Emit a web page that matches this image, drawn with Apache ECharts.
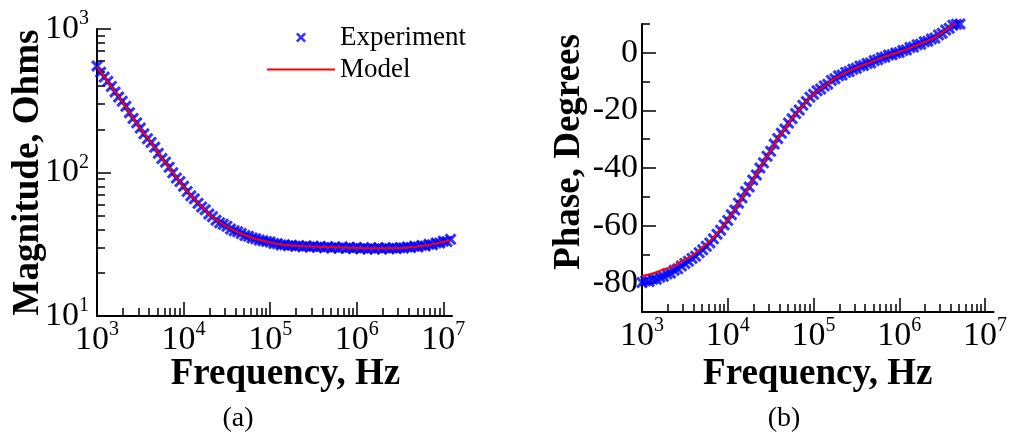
<!DOCTYPE html>
<html>
<head>
<meta charset="utf-8">
<script src="https://cdn.jsdelivr.net/npm/echarts@6/dist/echarts.min.js"></script>
<style>
html,body{margin:0;padding:0;background:#fff;}
#chart{width:1010px;height:433px;}
</style>
</head>
<body>
<div id="chart"></div>
<script>
// ---- data ----
// measured sweep (24 points per decade)
const expFreqs = [1000,1101,1212,1334,1468,1616,1778,1957,2154,2371,2610,2873,3162,3481,3831,4217,4642,5109,5623,6190,6813,7499,8254,9085,
  10000,11007,12115,13335,14678,16156,17783,19573,21544,23714,26102,28730,31623,34807,38312,42170,46416,51090,56234,61897,68129,74989,82540,90852,
  100000,110069,121153,133352,146780,161560,177828,195734,215443,237137,261016,287298,316228,348070,383119,421697,464159,510897,562341,618966,681292,749894,825404,908518,
  1000000,1100694,1211528,1333521,1467799,1615598,1778279,1957342,2154435,2371374,2610157,2872985,3162278,3480701,3831187,4216965,4641589,5108970,5623413,6189658,6812921,7498942,8254042,9085176,
  10000000,11006942,12115277];

const magExperiment = [552,500,462,432,398,364,336,314,289,261,238,222,204,186,172,162,150,136,125,118,109,99.5,91.5,86.5,
  80.2,73.8,68.8,65.6,61.0,57.5,55.0,51.4,49.2,46.5,44.6,43.6,42.2,40.4,39.2,38.6,37.6,36.4,35.9,35.0,34.6,33.8,33.4,33.1,
  32.8,32.0,31.9,31.3,31.4,30.9,31.1,30.6,30.9,30.4,30.8,30.2,30.6,30.1,30.5,29.9,30.4,29.8,30.3,29.7,30.2,29.6,30.1,29.5,
  30.0,29.4,29.9,29.3,29.8,29.3,29.9,29.3,29.9,29.4,29.9,29.5,29.9,29.8,30.2,30.0,30.6,30.3,31.0,30.8,31.6,31.4,32.3,32.2,
  33.2,33.0,34.2];

const phaseExperiment = [-79.8,-79.2,-79.4,-78.6,-78.6,-77.9,-77.6,-76.8,-76.5,-75.5,-75.0,-74.0,-73.2,-72.4,-71.4,-70.6,-69.4,-68.4,-67.2,-66.0,-64.6,-63.0,-61.6,-59.8,
  -58.2,-56.2,-54.6,-52.2,-50.4,-48.2,-46.6,-44.2,-42.4,-40.0,-38.2,-35.9,-34.2,-31.7,-29.8,-27.9,-26.5,-24.4,-22.9,-21.1,-19.9,-18.2,-16.9,-15.4,
  -14.4,-13.2,-12.6,-11.5,-10.9,-9.6,-9.0,-8.0,-7.7,-6.8,-6.5,-5.7,-5.4,-4.6,-4.4,-3.7,-3.5,-2.7,-2.4,-1.7,-1.5,-0.8,-0.7,-0.1,
  0.1,0.8,1.0,1.8,2.0,2.8,3.0,3.8,4.0,4.8,5.1,6.2,6.8,7.9,8.5,9.6,9.9,10.0];

// model curve (12 points per decade)
const modelFreqs = [1000,1212,1468,1778,2154,2610,3162,3831,4642,5623,6813,8254,
  10000,12115,14678,17783,21544,26102,31623,38312,46416,56234,68129,82540,
  100000,121153,146780,177828,215443,261016,316228,383119,464159,562341,681292,825404,
  1000000,1211528,1467799,1778279,2154435,2610157,3162278,3831187,4641589,5623413,6812921,8254042,
  10000000,12115277];
const magModel = [545,466,395,339,286,240,202,174,149,126,108,92.5,
  79.5,69.3,61.4,54.7,48.8,45.0,41.9,39.5,37.4,35.8,34.4,33.5,
  32.6,31.8,31.2,31.0,30.8,30.6,30.5,30.3,30.2,30.1,30.0,29.9,
  29.8,29.7,29.6,29.6,29.6,29.6,29.6,30.0,30.3,30.7,31.3,32.0,
  32.8,33.8];
const phaseModel = [-77.5,-77.0,-76.2,-75.2,-74.6,-73.2,-71.7,-70.5,-68.5,-66.4,-64.2,-61.2,
  -58.0,-54.5,-50.2,-46.5,-42.2,-38.0,-34.1,-29.5,-26.4,-22.7,-19.8,-16.8,
  -14.2,-12.5,-10.7,-8.8,-7.5,-6.3,-5.2,-4.2,-3.3,-2.2,-1.3,-0.5,
  0.3,1.2,2.2,3.2,4.2,5.3,7.0,8.7,10.6];

const freqDecades = [3,4,5,6,7];          // tick labels 10^3 .. 10^7
const magDecades = [1,2,3];               // tick labels 10^1 .. 10^3
const phaseLabels = [-80,-60,-40,-20,0];
const phaseMinor = [-70,-50,-30,-10,10];

// ---- helpers ----
const SERIF = 'Liberation Serif';
function minorLog(from, to) {
  const out = [];
  for (let n = from; n < to; n++) for (let k = 2; k <= 9; k++) out.push(Math.log10(k * Math.pow(10, n)));
  return out;
}
const powRich = {
  b: {fontSize: 34, lineHeight: 40, fontFamily: SERIF, color: '#000'},
  s: {fontSize: 20, lineHeight: 20, fontFamily: SERIF, color: '#000', verticalAlign: 'top'}
};
const powFmt = v => '{b|10}{s|' + Math.round(v) + '}';
const crossSym = 'path://M0,1.8L1.8,0L5,3.2L8.2,0L10,1.8L6.8,5L10,8.2L8.2,10L5,6.8L1.8,10L0,8.2L3.2,5Z';
const lineIcon = 'path://M0,4L68,4L68,6L0,6Z';
const BLUE = '#0000ff', RED = '#ff0000';
const lineStyleAxis = {color: '#000', width: 2};
const titleStyle = {fontSize: 37, fontWeight: 'bold', fontFamily: SERIF, color: '#000'};

function overlayX(grid, min, max, ticks, len, labels) {
  return {
    type: 'value', gridIndex: grid, position: 'bottom', min: min, max: max,
    axisLine: {show: false, onZero: false}, splitLine: {show: false},
    axisTick: {show: true, inside: true, length: len, customValues: ticks, lineStyle: {color: '#000', width: 1.5}},
    axisLabel: labels ? {show: true, customValues: labels, formatter: powFmt, rich: powRich, margin: 4} : {show: false}
  };
}
function overlayY(grid, min, max, ticks, len, labels, fmt, rich) {
  return {
    type: 'value', gridIndex: grid, position: 'left', min: min, max: max,
    axisLine: {show: false, onZero: false}, splitLine: {show: false},
    axisTick: {show: true, inside: true, length: len, customValues: ticks, lineStyle: {color: '#000', width: 1.5}},
    axisLabel: labels ? {show: true, customValues: labels, formatter: fmt, rich: rich, margin: 8} : {show: false}
  };
}

const chart = echarts.init(document.getElementById('chart'));
const fMin = 1000, fMax = Math.pow(10, 7.1);

const option = {
  backgroundColor: '#fff',
  animation: false,
  grid: [
    {left: 97, top: 29, width: 355, height: 287},
    {left: 642, top: 24, width: 355, height: 288}
  ],
  legend: {
    data: [{name: 'Experiment', icon: crossSym}, {name: 'Model', icon: lineIcon}],
    orient: 'vertical', left: 262, top: 19,
    itemWidth: 68, itemHeight: 10, itemGap: 5,
    textStyle: {fontSize: 27, fontFamily: SERIF, color: '#000'},
    selectedMode: false
  },
  xAxis: [
    {type: 'log', gridIndex: 0, min: fMin, max: fMax, logBase: 10, position: 'bottom',
     axisLine: {lineStyle: lineStyleAxis, onZero: false}, axisTick: {show: false}, axisLabel: {show: false}, splitLine: {show: false},
     name: 'Frequency, Hz', nameLocation: 'middle', nameGap: 40,
     nameTextStyle: Object.assign({padding: [0, 0, 0, 22]}, titleStyle)},
    overlayX(0, 3, 7.1, freqDecades, 14, freqDecades),
    overlayX(0, 3, 7.1, minorLog(3, 7), 8, null),
    {type: 'log', gridIndex: 1, min: fMin, max: fMax, logBase: 10, position: 'bottom',
     axisLine: {lineStyle: lineStyleAxis, onZero: false}, axisTick: {show: false}, axisLabel: {show: false}, splitLine: {show: false},
     name: 'Frequency, Hz', nameLocation: 'middle', nameGap: 44,
     nameTextStyle: titleStyle},
    overlayX(1, 3, 7.1, freqDecades, 14, freqDecades),
    overlayX(1, 3, 7.1, minorLog(3, 7), 8, null)
  ],
  yAxis: [
    {type: 'log', gridIndex: 0, min: 10, max: 1000, logBase: 10, position: 'left',
     axisLine: {lineStyle: lineStyleAxis, onZero: false}, axisTick: {show: false}, axisLabel: {show: false}, splitLine: {show: false},
     name: 'Magnitude, Ohms', nameLocation: 'middle', nameRotate: 90, nameGap: 50,
     nameTextStyle: titleStyle},
    overlayY(0, 1, 3, magDecades, 14, magDecades, powFmt, powRich),
    overlayY(0, 1, 3, minorLog(1, 3), 8, null),
    {type: 'value', gridIndex: 1, min: -90, max: 10, position: 'left',
     axisLine: {lineStyle: lineStyleAxis, onZero: false}, splitLine: {show: false},
     axisTick: {show: true, inside: true, length: 8, customValues: phaseMinor, lineStyle: {color: '#000', width: 1.5}},
     axisLabel: {show: true, customValues: phaseLabels, margin: 4, fontSize: 34, fontFamily: SERIF, color: '#000'},
     name: 'Phase, Degrees', nameLocation: 'middle', nameRotate: 90, nameGap: 54,
     nameTextStyle: Object.assign({padding: [0, 0, 0, 32]}, titleStyle)},
    overlayY(1, -90, 10, phaseLabels, 14, null)
  ],
  series: [
    {name: 'Experiment', type: 'scatter', xAxisIndex: 0, yAxisIndex: 0,
     symbol: crossSym, symbolSize: 12, itemStyle: {color: BLUE}, z: 2,
     data: magExperiment.map((v, i) => [expFreqs[i], v])},
    {name: 'Model', type: 'line', xAxisIndex: 0, yAxisIndex: 0,
     symbol: 'none', showSymbol: false, lineStyle: {color: RED, width: 2}, itemStyle: {color: RED}, z: 3,
     data: magModel.map((v, i) => [modelFreqs[i], v])},
    {name: 'Experiment', type: 'scatter', xAxisIndex: 3, yAxisIndex: 3,
     symbol: crossSym, symbolSize: 12, itemStyle: {color: BLUE}, z: 2,
     data: phaseExperiment.map((v, i) => [expFreqs[i], v])},
    {name: 'Model', type: 'line', xAxisIndex: 3, yAxisIndex: 3,
     symbol: 'none', showSymbol: false, lineStyle: {color: RED, width: 2}, itemStyle: {color: RED}, z: 3,
     data: phaseModel.map((v, i) => [modelFreqs[i], v])}
  ],
  graphic: [
    {type: 'text', x: 238, y: 419, style: {text: '(a)', align: 'center', verticalAlign: 'middle', fontSize: 28, fontFamily: SERIF, fill: '#000'}},
    {type: 'text', x: 784, y: 419, style: {text: '(b)', align: 'center', verticalAlign: 'middle', fontSize: 28, fontFamily: SERIF, fill: '#000'}}
  ]
};
chart.setOption(option);
</script>
</body>
</html>
